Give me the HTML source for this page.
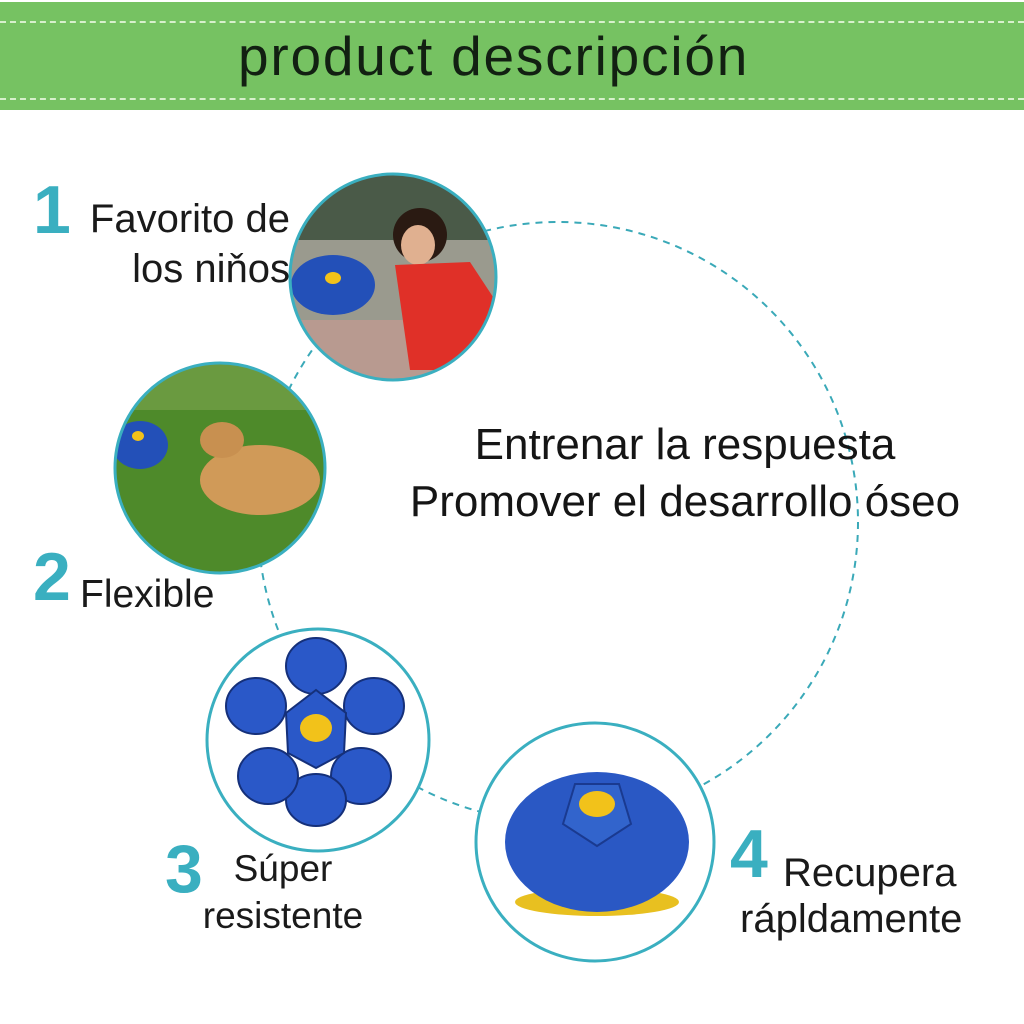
<!DOCTYPE html>
<html><head><meta charset="utf-8"><style>
body{margin:0;width:1024px;height:1024px;background:#fff;position:relative;overflow:hidden;font-family:"Liberation Sans",sans-serif}
.t{position:absolute;color:#1a1a1a;white-space:nowrap}
.n{position:absolute;color:#3aafc0;font-weight:bold;font-size:68px;line-height:1}
</style></head><body>
<div style="position:absolute;left:0;top:2px;width:1024px;height:108px;background:#76c262"></div>
<div style="position:absolute;left:0;top:21px;width:1024px;border-top:2px dashed #d8f0cc"></div>
<div style="position:absolute;left:0;top:98px;width:1024px;border-top:2px dashed #d8f0cc"></div>
<div class="t" style="left:238px;top:24px;font-size:55px;color:#122012;letter-spacing:1.8px">product descripción</div>

<svg width="1024" height="1024" style="position:absolute;left:0;top:0">
<circle cx="558" cy="522" r="300" fill="none" stroke="#3aa9b8" stroke-width="2" stroke-dasharray="7 6"/>
<defs>
<clipPath id="c1"><circle cx="393" cy="277" r="103"/></clipPath>
<clipPath id="c2"><circle cx="220" cy="468" r="105"/></clipPath>
</defs>
<g clip-path="url(#c1)">
<rect x="280" y="170" width="230" height="220" fill="#9a9a8e"/>
<rect x="280" y="170" width="230" height="70" fill="#4a5a48"/>
<rect x="280" y="320" width="230" height="70" fill="#b89a90"/>
<circle cx="420" cy="235" r="27" fill="#2a1a12"/>
<ellipse cx="418" cy="245" rx="17" ry="20" fill="#e0b090"/>
<path d="M395,265 L470,262 L495,300 L470,370 L410,370 L400,300Z" fill="#e03028"/>
<ellipse cx="333" cy="285" rx="42" ry="30" fill="#2350b8"/>
<ellipse cx="333" cy="278" rx="8" ry="6" fill="#f2c21a"/>
</g>
<circle cx="393" cy="277" r="103" fill="none" stroke="#3aafc0" stroke-width="3"/>
<g clip-path="url(#c2)">
<rect x="110" y="360" width="220" height="220" fill="#4e8a2a"/>
<rect x="110" y="360" width="220" height="50" fill="#6a9a40"/>
<ellipse cx="260" cy="480" rx="60" ry="35" fill="#d09a58"/>
<ellipse cx="222" cy="440" rx="22" ry="18" fill="#c89050"/>
<ellipse cx="140" cy="445" rx="28" ry="24" fill="#2350b8"/>
<ellipse cx="138" cy="436" rx="6" ry="5" fill="#f2c21a"/>
</g>
<circle cx="220" cy="468" r="105" fill="none" stroke="#3aafc0" stroke-width="3"/>
<circle cx="318" cy="740" r="111" fill="#fff" stroke="#3aafc0" stroke-width="3"/>
<g transform="translate(316,728)">
<g fill="#2a58c8" stroke="#15307a" stroke-width="2">
<ellipse cx="0" cy="-62" rx="30" ry="28"/>
<ellipse cx="58" cy="-22" rx="30" ry="28"/>
<ellipse cx="45" cy="48" rx="30" ry="28"/>
<ellipse cx="0" cy="72" rx="30" ry="26"/>
<ellipse cx="-48" cy="48" rx="30" ry="28"/>
<ellipse cx="-60" cy="-22" rx="30" ry="28"/>
<path d="M-30,-15 L0,-38 L30,-15 L28,25 L0,40 L-28,25Z"/>
</g>
<ellipse cx="0" cy="0" rx="16" ry="14" fill="#f2c21a"/>
</g>
<circle cx="595" cy="842" r="119" fill="#fff" stroke="#3aafc0" stroke-width="3"/>
<g transform="translate(597,842)">
<ellipse cx="0" cy="60" rx="82" ry="14" fill="#e8c020"/>
<ellipse cx="0" cy="0" rx="92" ry="70" fill="#2a58c4"/>
<path d="M-22,-58 L22,-58 L34,-18 L0,4 L-34,-18Z" fill="#3264cc" stroke="#1a3a90" stroke-width="2"/>
<ellipse cx="0" cy="-38" rx="18" ry="13" fill="#f2c21a"/>
</g>
</svg>

<div class="n" style="left:33px;top:176px">1</div>
<div class="t" style="left:70px;top:194px;font-size:40px;line-height:50px;text-align:right;width:220px">Favorito de<br>los niňos</div>
<div class="n" style="left:33px;top:543px">2</div>
<div class="t" style="left:80px;top:573px;font-size:39px">Flexible</div>
<div class="n" style="left:165px;top:835px">3</div>
<div class="t" style="left:198px;top:845px;font-size:37px;line-height:47px;text-align:center;width:170px">Súper<br>resistente</div>
<div class="n" style="left:730px;top:820px">4</div>
<div class="t" style="left:740px;top:850px;font-size:40px;line-height:46px;"><span style="margin-left:43px">Recupera</span><br>rápldamente</div>
<div class="t" style="left:385px;top:416px;font-size:44px;line-height:57px;text-align:center;width:600px;color:#151515">Entrenar la respuesta<br>Promover el desarrollo óseo</div>
</body></html>
